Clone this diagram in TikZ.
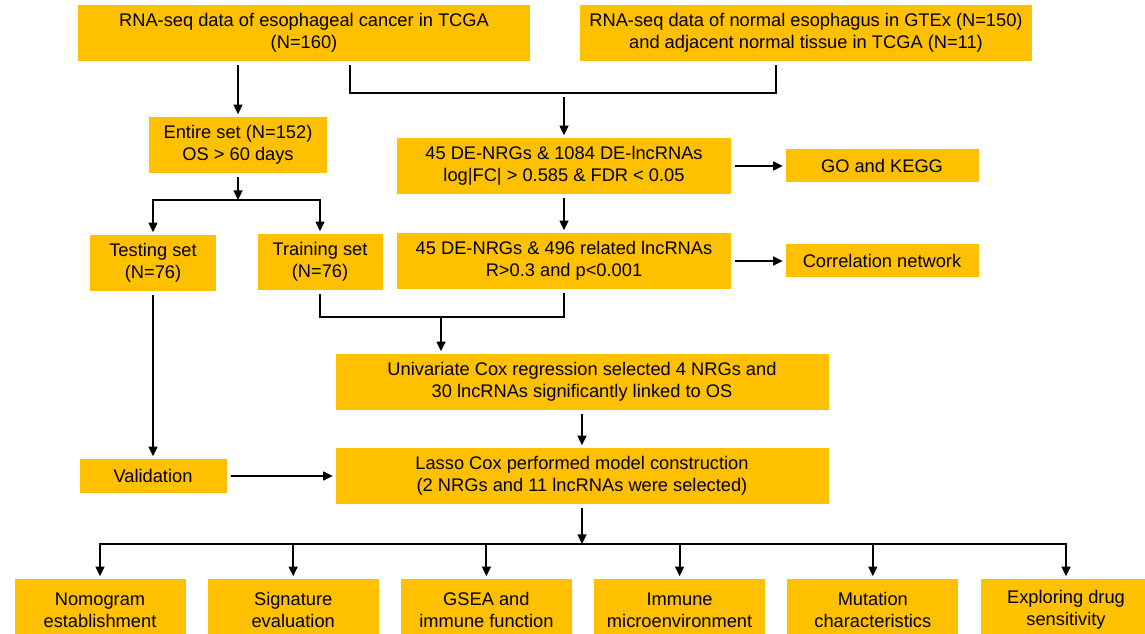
\documentclass[tikz,border=0pt]{standalone}
\usepackage{fontspec}
\setmainfont{Liberation Sans}
\usetikzlibrary{arrows.meta}
\definecolor{gold}{RGB}{255,192,0}

\begin{document}
\begin{tikzpicture}[>={Triangle[length=5.5pt,width=5pt]},line width=1.1pt,
  node distance=3cm,
  box/.style 2 args={rectangle,fill=gold,inner sep=0pt,align=center,
    minimum width=#1,minimum height=#2,font=\fontsize{10.4}{12.5}\selectfont}]

  \useasboundingbox (0,0) rectangle (22.9,-12.68);
  \clip (0,0) rectangle (22.9,-12.68);

  \node[box={9.04cm}{1.12cm}] (tcga) at (6.08,-0.66) {RNA-seq data of esophageal cancer in TCGA\\(N=160)};
  \node[box={9.04cm}{1.12cm}] (gtex) at (16.12,-0.66) {RNA-seq data of normal esophagus in GTEx (N=150)\\and adjacent normal tissue in TCGA (N=11)};
  \node[box={3.56cm}{1.12cm}] (entire) at (4.76,-2.9) {Entire set (N=152)\\OS > 60 days};
  \node[box={6.68cm}{1.12cm}] (de1) at (11.28,-3.32) {45 DE-NRGs \& 1084 DE-lncRNAs\\log|FC| > 0.585 \& FDR < 0.05};
  \node[box={6.68cm}{1.12cm}] (de2) [below of=de1,node distance=1.9cm] {45 DE-NRGs \& 496 related lncRNAs\\R>0.3 and p<0.001};
  \node[box={3.86cm}{0.66cm}] (go) [right of=de1,node distance=6.36cm] {GO and KEGG};
  \node[box={3.86cm}{0.66cm}] (corr) [right of=de2,node distance=6.36cm] {Correlation network};
  \node[box={2.52cm}{1.12cm}] (testing) at (3.06,-5.26) {Testing set\\(N=76)};
  \node[box={2.5cm}{1.12cm}] (training) at (6.4,-5.24) {Training set\\(N=76)};
  \node[box={9.86cm}{1.12cm}] (uni) at (11.64,-7.64) {Univariate Cox regression selected 4 NRGs and\\30 lncRNAs significantly linked to OS};
  \node[box={9.86cm}{1.12cm}] (lasso) [below of=uni,node distance=1.88cm] {Lasso Cox performed model construction\\(2 NRGs and 11 lncRNAs were selected)};
  \node[box={2.94cm}{0.68cm}] (valid) at (3.06,-9.52) {Validation};

  \node[box={3.42cm}{1.24cm}] (b1) at (2.0,-12.2) {Nomogram\\establishment};
  \node[box={3.42cm}{1.24cm}] (b2) [right of=b1,node distance=3.864cm] {Signature\\evaluation};
  \node[box={3.42cm}{1.24cm}] (b3) [right of=b2,node distance=3.864cm] {GSEA and\\immune function};
  \node[box={3.42cm}{1.24cm}] (b4) [right of=b3,node distance=3.864cm] {Immune\\microenvironment};
  \node[box={3.42cm}{1.24cm}] (b5) [right of=b4,node distance=3.864cm] {Mutation\\characteristics};
  \node[box={3.42cm}{1.24cm}] (b6) [right of=b5,node distance=3.864cm] {Exploring drug\\sensitivity};

  % joints of the connectors
  \coordinate (t1) at (7.0,0);
  \coordinate (g1) at (15.52,0);
  \coordinate (bus1) at (11.28,-1.86);
  \coordinate (bus2) at (4.76,-4.0);
  \coordinate (bus3) at (8.82,-6.34);
  \coordinate (bus4) at (11.64,-10.88);

  \path[->,shorten <=2pt,shorten >=1pt]
    (tcga.south -| entire) edge (entire)
    (bus1) edge (de1)
    (de1) edge (de2)
    (de1.east |- go) edge (go)
    (de2.east |- corr) edge (corr)
    (uni) edge (lasso)
    (testing) edge (valid)
    (valid) edge (lasso);
  \draw[->,shorten >=1pt] (bus3) -- (uni.north -| bus3);

  \draw[shorten <=2pt] (tcga.south -| t1) |- (bus1);
  \draw[shorten <=2pt] (gtex.south -| g1) |- (bus1);
  \draw[->,shorten <=2pt] (entire) -- (bus2);
  \draw[<->,shorten <=1pt,shorten >=1pt] (testing) |- (bus2) -| (training);
  \draw[shorten <=2pt,shorten >=2pt] (training) |- (bus3) -| (de2);
  \draw[->,shorten <=2pt] (lasso) -- (bus4);
  \foreach \n in {b1,b2,b3,b4,b5,b6}
    \draw[->,shorten >=1pt] (bus4) -| (\n);

\end{tikzpicture}
\end{document}
